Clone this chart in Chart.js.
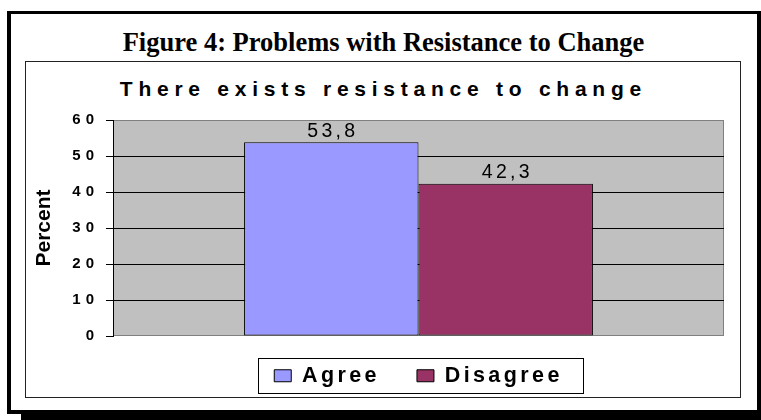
<!DOCTYPE html>
<html>
<head>
<meta charset="utf-8">
<title>Figure 4: Problems with Resistance to Change</title>
<script src="https://cdn.jsdelivr.net/npm/chart.js@4.4.1/dist/chart.umd.min.js"></script>
<style>
  html, body { margin: 0; padding: 0; background: #fff; }
  body { width: 761px; height: 420px; position: relative; overflow: hidden; }
  #shadow { position: absolute; left: 21px; top: 25px; width: 800px; height: 395px; background: #000; }
  #frame { position: absolute; left: 7px; top: 11px; width: 754px; height: 403px; box-sizing: border-box;
           border: 4px solid #000; border-top-width: 3px; background: #fff; }
  #box { position: absolute; left: 25px; top: 61px; width: 716px; height: 337px; box-sizing: border-box;
         border: 1px solid #222; background: #fff; }
  #figTitle { position: absolute; left: 6px; width: 755px; top: 28.5px; text-align: center; white-space: nowrap;
              font: bold 26.5px/27px 'Liberation Serif', 'Times New Roman', serif; color: #000; }
  #chartTitle { position: absolute; left: 0; width: 761px; padding-left: 5.75px; box-sizing: border-box; top: 78.2px;
                text-align: center; white-space: nowrap; letter-spacing: 5.75px;
                font: bold 21px/21px 'Liberation Sans', Arial, Helvetica, sans-serif; color: #000; }
  #chart { position: absolute; left: 26px; top: 62px; }
</style>
</head>
<body>
<div id="shadow"></div>
<div id="frame"></div>
<div id="box"></div>
<div id="figTitle">Figure 4: Problems with Resistance to Change</div>
<div id="chartTitle">There exists resistance to change</div>
<canvas id="chart" width="714" height="343"></canvas>
<script>
// Survey answers to "There exists resistance to change" (percent of respondents)
const categories = ['There exists resistance to change'];
const seriesNames = ['Agree', 'Disagree'];
const agreeValues = [53.8];
const disagreeValues = [42.3];
const yTickValues = [0, 10, 20, 30, 40, 50, 60];

const seriesColors = ['#9999FF', '#993366'];
const SANS = "'Liberation Sans', Arial, Helvetica, sans-serif";

// Wide character spacing per font size (ticks, axis title, legend, value labels)
const SPACING_BY_SIZE = { '15': '5px', '21': '0px', '21.5': '3.4px', '19.5': '3.3px' };

function useSpacedText(context) {
  const desc = Object.getOwnPropertyDescriptor(CanvasRenderingContext2D.prototype, 'font');
  Object.defineProperty(context, 'font', {
    configurable: true,
    get() { return desc.get.call(this); },
    set(value) {
      desc.set.call(this, value);
      const m = /([\d.]+)px/.exec(value);
      this.letterSpacing = (m && SPACING_BY_SIZE[m[1]]) || '0px';
    }
  });
}

const canvas = document.getElementById('chart');
const context = canvas.getContext('2d');
useSpacedText(context);

Chart.defaults.color = '#000';
Chart.defaults.font.family = SANS;

// Grey plot area with a thin grey outline
const plotFrame = {
  id: 'plotFrame',
  beforeDraw(chart) {
    const { ctx, chartArea: a } = chart;
    ctx.save();
    ctx.fillStyle = '#C0C0C0';
    ctx.fillRect(a.left, a.top, a.width, a.height);
    ctx.strokeStyle = '#808080';
    ctx.lineWidth = 1;
    ctx.strokeRect(a.left + 0.5, a.top + 0.5, a.width - 1, a.height - 1);
    ctx.restore();
  }
};

// Legend row sits 29px below the plot, independent of the gap between its entries
const LEGEND_ROW_OFFSET = 29;
const legendPlacement = {
  id: 'legendPlacement',
  afterLayout(chart) {
    const lg = chart.legend;
    if (!lg) return;
    const pad = lg.options.labels.padding;
    const shift = (chart.chartArea.bottom + LEGEND_ROW_OFFSET - pad) - lg.top;
    lg.top += shift;
    lg.bottom += shift;
  }
};

// Value written above each bar, with a decimal comma
const valueLabels = {
  id: 'valueLabels',
  afterDatasetsDraw(chart) {
    const { ctx } = chart;
    ctx.save();
    ctx.font = 'normal 19.5px ' + SANS;
    ctx.fillStyle = '#000';
    ctx.textAlign = 'center';
    ctx.textBaseline = 'alphabetic';
    chart.data.datasets.forEach((ds, i) => {
      chart.getDatasetMeta(i).data.forEach((bar, j) => {
        const text = ds.data[j].toFixed(1).replace('.', ',');
        ctx.fillText(text, bar.x + 1.6, bar.y - 5.6);
      });
    });
    ctx.restore();
  }
};

// Rectangle around the legend entries
const legendFrame = {
  id: 'legendFrame',
  afterDraw(chart) {
    const boxes = chart.legend && chart.legend.legendHitBoxes;
    if (!boxes || !boxes.length) return;
    const { ctx } = chart;
    const first = boxes[0];
    const last = boxes[boxes.length - 1];
    const swatchTop = first.top + 4.75;
    const left = Math.round(first.left - 16) + 0.5;
    const right = Math.round(last.left + last.width + 20) + 0.5;
    const top = Math.round(swatchTop - 12) + 0.5;
    const bottom = Math.round(swatchTop + 23) + 0.5;
    ctx.save();
    ctx.strokeStyle = '#000';
    ctx.lineWidth = 1;
    ctx.strokeRect(left, top, right - left, bottom - top);
    ctx.restore();
  }
};

new Chart(context, {
  type: 'bar',
  data: {
    labels: categories,
    datasets: [
      { label: seriesNames[0], data: agreeValues, backgroundColor: seriesColors[0],
        borderColor: '#000', borderWidth: 1, borderSkipped: false },
      { label: seriesNames[1], data: disagreeValues, backgroundColor: seriesColors[1],
        borderColor: '#000', borderWidth: 1, borderSkipped: false }
    ]
  },
  options: {
    responsive: false,
    animation: false,
    devicePixelRatio: 1,
    layout: { padding: { top: 58, right: 16, bottom: 0.5, left: 0 } },
    datasets: { bar: { categoryPercentage: 0.571, barPercentage: 1 } },
    scales: {
      x: { display: false },
      y: {
        min: 0,
        max: 60,
        afterBuildTicks(scale) { scale.ticks = yTickValues.map(v => ({ value: v })); },
        afterFit(scale) { scale.width = 87; },
        grid: {
          color: c => (c.tick && (c.tick.value === 0 || c.tick.value === 60)) ? 'rgba(0,0,0,0)' : '#000',
          tickColor: '#000',
          tickLength: 7,
          lineWidth: 1
        },
        border: { display: true, color: '#000', width: 1 },
        ticks: { color: '#000', padding: 7, font: { family: SANS, size: 15, weight: 'bold' } },
        title: {
          display: true, text: 'Percent', color: '#000',
          font: { family: SANS, size: 21, weight: 'bold' },
          padding: { top: 6.1, bottom: 0 }
        }
      }
    },
    plugins: {
      title: { display: false },
      tooltip: { enabled: false },
      legend: {
        position: 'bottom',
        fullSize: false,
        labels: {
          boxWidth: 17, boxHeight: 12, padding: 37, color: '#000',
          font: { family: SANS, size: 21.5, weight: 'bold' }
        }
      }
    }
  },
  plugins: [plotFrame, legendPlacement, valueLabels, legendFrame]
});
</script>
</body>
</html>
